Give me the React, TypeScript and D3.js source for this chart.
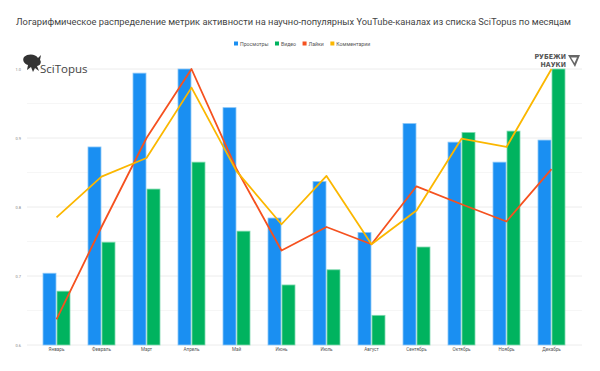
import React, { useEffect, useRef } from 'react';
import * as d3 from 'd3';

const months = ['Январь', 'Февраль', 'Март', 'Апрель', 'Май', 'Июнь', 'Июль', 'Август', 'Сентябрь', 'Октябрь', 'Ноябрь', 'Декабрь'];
const views = [0.704, 0.887, 0.994, 1.0, 0.944, 0.784, 0.837, 0.763, 0.921, 0.894, 0.865, 0.897];
const videos = [0.678, 0.749, 0.826, 0.865, 0.765, 0.687, 0.709, 0.643, 0.742, 0.908, 0.910, 1.0];
const likes = [0.637, 0.771, 0.9, 1.0, 0.855, 0.737, 0.771, 0.746, 0.830, 0.804, 0.779, 0.855];
const comments = [0.785, 0.844, 0.871, 0.973, 0.852, 0.775, 0.845, 0.746, 0.795, 0.899, 0.887, 1.0];
const yTicks = [0.6, 0.7, 0.8, 0.9, 1.0];
const legendItems = [
  { name: 'Просмотры', color: '#1a8ff2' },
  { name: 'Видео', color: '#00b35f' },
  { name: 'Лайки', color: '#f5511f' },
  { name: 'Комментарии', color: '#fbb700' },
];
const title = 'Логарифмическое распределение метрик активности на научно-популярных YouTube-каналах из списка SciTopus по месяцам';

const W = 600, H = 371;

export default function App() {
  const ref = useRef<SVGSVGElement>(null);

  useEffect(() => {
    const svg = d3.select(ref.current);
    svg.selectAll('*').remove();
    const font = 'Roboto, Arial, sans-serif';

    const x = d3.scaleBand<string>().domain(months).range([34, 574]);
    const y = d3.scaleLinear().domain([0.6, 1.0]).range([345, 69]);
    const inner = d3.scaleBand<string>().domain(['v', 'c']).range([-14, 14]);
    const cx = (m: string) => (x(m) as number) + x.bandwidth() / 2;

    // title
    svg.append('text')
      .attr('x', 16).attr('y', 25)
      .attr('font-family', font).attr('font-size', 9.3)
      .attr('fill', '#444')
      .text(title);

    // legend
    const lg = svg.append('g').attr('font-family', font).attr('font-size', 5.2).attr('fill', '#555');
    let lx = 234;
    legendItems.forEach(it => {
      lg.append('rect').attr('x', lx).attr('y', 41.5).attr('width', 4).attr('height', 4).attr('fill', it.color);
      const t = lg.append('text').attr('x', lx + 6).attr('y', 45.6).text(it.name);
      const w = (t.node() as SVGTextElement).getComputedTextLength();
      lx += 6 + w + 6.5;
    });

    // grid
    const minor = d3.range(0.65, 1.0, 0.1);
    svg.append('g').selectAll('line').data(minor).enter().append('line')
      .attr('x1', 27).attr('x2', 582)
      .attr('y1', d => y(d)).attr('y2', d => y(d))
      .attr('stroke', '#f6f6f6').attr('stroke-width', 1);
    svg.append('g').selectAll('line').data(yTicks).enter().append('line')
      .attr('x1', 27).attr('x2', 582)
      .attr('y1', d => y(d)).attr('y2', d => y(d))
      .attr('stroke', '#ececec').attr('stroke-width', 1);

    // y axis labels
    svg.append('g').selectAll('text').data(yTicks).enter().append('text')
      .attr('x', 21).attr('y', d => y(d) + 1.5)
      .attr('text-anchor', 'end')
      .attr('font-family', font).attr('font-size', 4)
      .attr('fill', '#888')
      .text(d => d.toFixed(1));

    // bars
    const bars = svg.append('g');
    bars.selectAll('.views').data(views).enter().append('rect')
      .attr('x', (d, i) => cx(months[i]) + (inner('v') as number) + 0.5)
      .attr('width', inner.bandwidth() - 1)
      .attr('y', d => y(d))
      .attr('height', d => 345 - y(d))
      .attr('fill', legendItems[0].color)
      .attr('stroke', '#8cc7f7').attr('stroke-width', 0.8);
    bars.selectAll('.videos').data(videos).enter().append('rect')
      .attr('x', (d, i) => cx(months[i]) + (inner('c') as number) + 0.5)
      .attr('width', inner.bandwidth() - 1)
      .attr('y', d => y(d))
      .attr('height', d => 345 - y(d))
      .attr('fill', legendItems[1].color)
      .attr('stroke', '#7fd9ae').attr('stroke-width', 0.8);

    // lines
    const line = d3.line<number>()
      .x((d, i) => cx(months[i]))
      .y(d => y(d));
    svg.append('path').datum(likes)
      .attr('d', line).attr('fill', 'none')
      .attr('stroke', legendItems[2].color).attr('stroke-width', 1.8)
      .attr('stroke-linejoin', 'round');
    svg.append('path').datum(comments)
      .attr('d', line).attr('fill', 'none')
      .attr('stroke', legendItems[3].color).attr('stroke-width', 1.8)
      .attr('stroke-linejoin', 'round');

    // x labels
    svg.append('g').selectAll('text').data(months).enter().append('text')
      .attr('x', d => cx(d)).attr('y', 351)
      .attr('text-anchor', 'middle')
      .attr('font-family', font).attr('font-size', 4.6)
      .attr('fill', '#555')
      .text(d => d);

    // SciTopus logo
    const logo = svg.append('g');
    logo.append('path')
      .attr('d', 'M24,57 C28,53 36,54 38,58 L41,55 L40,60 C42,62 40,66 37,66 L39,71 L35,68 L33,72 L31,67 L27,70 L28,65 C24,64 22,60 24,57 Z')
      .attr('fill', '#333');
    logo.append('text')
      .attr('x', 40).attr('y', 73)
      .attr('font-family', '"Open Sans", sans-serif').attr('font-size', 11.5)
      .attr('fill', '#444')
      .text('SciTopus');

    // Рубежи науки logo
    const rl = svg.append('g').attr('font-family', '"DejaVu Sans Condensed", "DejaVu Sans", sans-serif')
      .attr('font-size', 7).attr('font-weight', 'bold')
      .attr('fill', '#555').attr('text-anchor', 'end');
    rl.append('text').attr('x', 566).attr('y', 59).text('РУБЕЖИ');
    rl.append('text').attr('x', 566).attr('y', 66.5).text('НАУКИ');
    rl.append('path')
      .attr('d', 'M568,55 L580,55 L575,67 Z M571,57.5 L577,57.5 L574.5,63 Z')
      .attr('fill', '#666').attr('fill-rule', 'evenodd');
  }, []);

  return (
    <svg ref={ref} width={W} height={H}
      style={{ position: 'absolute', left: 0, top: 0, background: '#fff' }} />
  );
}
